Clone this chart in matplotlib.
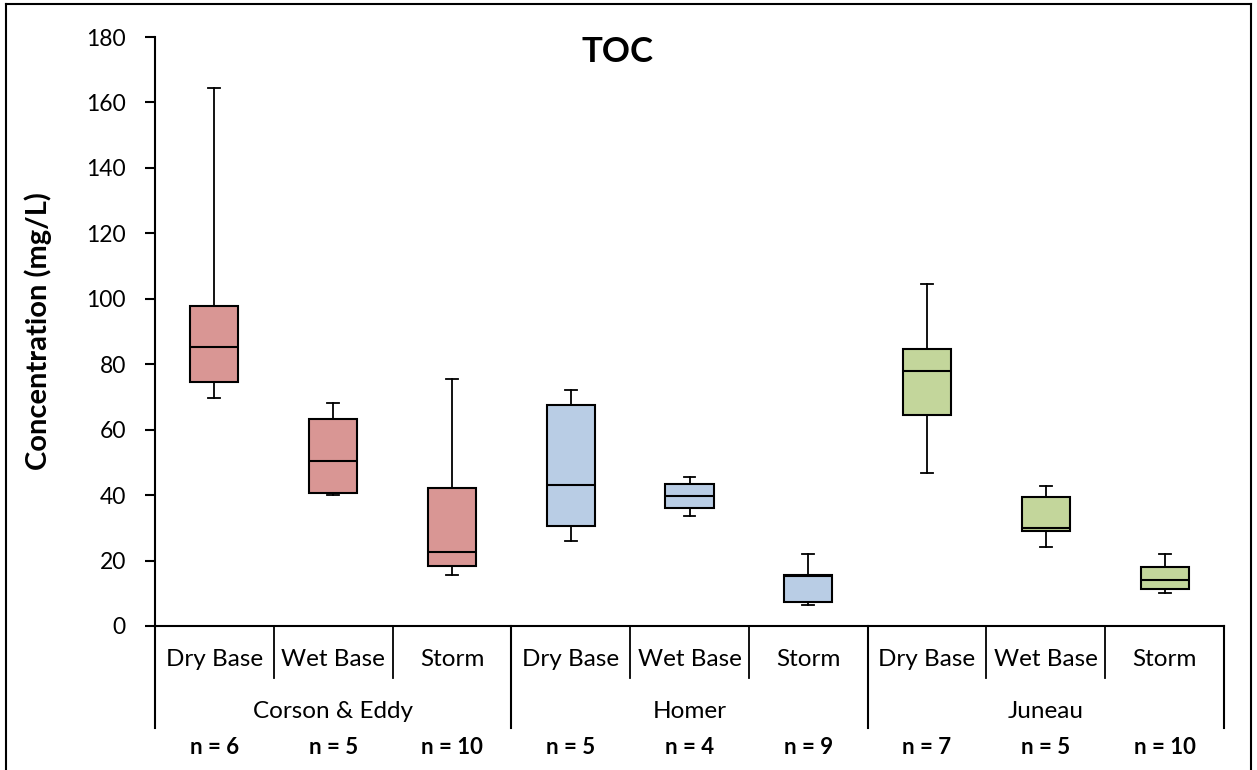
import matplotlib
matplotlib.use("Agg")
import matplotlib.pyplot as plt
from matplotlib.lines import Line2D

plt.rcParams['font.family'] = ['Lato', 'DejaVu Sans']

# ---- data ----
groups = ["Corson & Eddy", "Homer", "Juneau"]
conditions = ["Dry Base", "Wet Base", "Storm"]
n_labels = ["n = 6", "n = 5", "n = 10", "n = 5", "n = 4", "n = 9", "n = 7", "n = 5", "n = 10"]
whis_low = [69.6, 40.0, 15.5, 26.1, 33.7, 6.5, 46.9, 24.2, 10.2]
q1 = [74.6, 40.5, 18.3, 30.5, 36.0, 7.4, 64.6, 29.1, 11.3]
median = [85.2, 50.4, 22.7, 43.2, 39.7, 15.2, 77.8, 30.0, 14.1]
q3 = [97.7, 63.4, 42.2, 67.5, 43.5, 15.6, 84.5, 39.4, 18.1]
whis_high = [164.5, 68.0, 75.4, 72.0, 45.5, 22.1, 104.5, 42.8, 22.0]
group_colors = ["#D99694", "#B9CDE5", "#C3D69B"]

W, H = 1257, 770
fig = plt.figure(figsize=(W / 100, H / 100), dpi=100)
ax = fig.add_axes([155 / W, 1 - 626 / H, (1224 - 155) / W, (626 - 37) / H])

stats = []
for i in range(len(median)):
    stats.append(dict(med=median[i], q1=q1[i], q3=q3[i],
                      whislo=whis_low[i], whishi=whis_high[i], fliers=[]))

positions = list(range(len(stats)))
bp = ax.bxp(stats, positions=positions, widths=0.405, capwidths=0.1,
            patch_artist=True, showfliers=False,
            boxprops=dict(linewidth=1.5, edgecolor="black"),
            medianprops=dict(color="black", linewidth=1.5),
            whiskerprops=dict(color="black", linewidth=1.3),
            capprops=dict(color="black", linewidth=1.3))
for i, box in enumerate(bp["boxes"]):
    box.set_facecolor(group_colors[i // 3])

ax.set_xlim(-0.5, len(stats) - 0.5)
ax.set_ylim(0, 180)
ax.set_yticks(range(0, 181, 20))
ax.tick_params(axis="y", direction="out", length=7, width=1.5, labelsize=16.5, pad=14)
ax.set_xticks([])
for s in ["top", "right"]:
    ax.spines[s].set_visible(False)
ax.spines["left"].set_linewidth(1.5)
ax.spines["bottom"].set_linewidth(1.5)

ax.set_ylabel("Concentration (mg/L)", fontsize=21, fontweight="bold")
ax.yaxis.set_label_coords(-0.0964, 0.5)

# category axis decoration
tr = ax.get_xaxis_transform()
ah = 626 - 37
y_sub_line = -52 / ah
y_grp_line = -102 / ah
y_sub_text = -34 / ah
y_grp_text = -86 / ah
y_n_text = -122 / ah

for i in range(len(stats)):
    ax.text(i, y_sub_text, conditions[i % 3], transform=tr, ha="center", va="center", fontsize=17.5)
    ax.text(i, y_n_text, n_labels[i], transform=tr, ha="center", va="center", fontsize=16, fontweight="bold")
for b in range(1, len(stats)):
    if b % 3 != 0:
        ax.plot([b - 0.5, b - 0.5], [0, y_sub_line], transform=tr, color="black", lw=1.3, clip_on=False)
for g in range(len(groups) + 1):
    x = g * 3 - 0.5
    ax.plot([x, x], [0, y_grp_line], transform=tr, color="black", lw=1.5, clip_on=False)
for g, name in enumerate(groups):
    ax.text(g * 3 + 1, y_grp_text, name, transform=tr, ha="center", va="center", fontsize=17.5)

fig.text(618 / W, 1 - 52 / H, "TOC", ha="center", va="center", fontsize=25, fontweight="bold")

# chart border
bx0, bx1, by0 = 6 / W, 1251 / W, 1 - 4 / H
for xs, ys in [([bx0, bx0], [0, by0]), ([bx0, bx1], [by0, by0]), ([bx1, bx1], [by0, 0])]:
    fig.add_artist(Line2D(xs, ys, transform=fig.transFigure, color="black", lw=1.5))

fig.savefig("out.png", dpi=100)
